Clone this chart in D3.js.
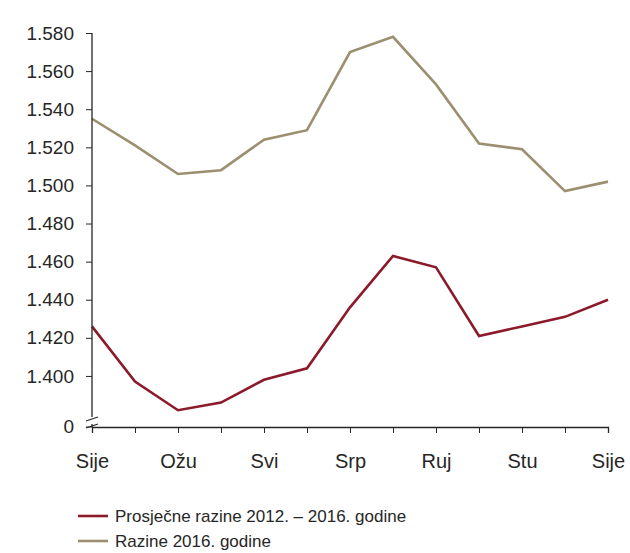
<!DOCTYPE html>
<html>
<head>
<meta charset="utf-8">
<script src="https://cdn.jsdelivr.net/npm/d3@7"></script>
<style>
  body { margin: 0; background: #fff; }
  text { font-family: "Liberation Sans", Arial, sans-serif; }
</style>
</head>
<body>
<div id="content"></div>
<script>
// Mjeseci (13 tocaka, oznaka na svakom drugom)
const months = ['Sije', 'Velj', 'Ožu', 'Tra', 'Svi', 'Lip', 'Srp', 'Kol', 'Ruj', 'Lis', 'Stu', 'Pro', 'Sije'];

// Prosjecne razine 2012. - 2016. godine
const avgLevels = [1426, 1397, 1382, 1386, 1398, 1404, 1436, 1463, 1457, 1421, 1426, 1431, 1440];
// Razine 2016. godine
const levels2016 = [1535, 1521, 1506, 1508, 1524, 1529, 1570, 1578, 1553, 1522, 1519, 1497, 1502];

const yTicks = [1400, 1420, 1440, 1460, 1480, 1500, 1520, 1540, 1560, 1580];
const legendNames = ['Prosječne razine 2012. – 2016. godine', 'Razine 2016. godine'];

const width = 630;
const height = 553;
const mLeft = 92, mRight = 608, mTop = 33, mBottom = 427;
const axisColor = '#262626';
const colors = ['#8c1a2b', '#9c8f6f'];

const locale = d3.formatLocale({ decimal: ',', thousands: '.', grouping: [3], currency: ['', ' kn'] });
const fmt = locale.format(',d');

const svg = d3.select('#content')
    .append('svg')
    .attr('width', width)
    .attr('height', height);

const xScale = d3.scaleLinear()
    .domain([0, months.length - 1])
    .range([mLeft, mRight]);

// Os s prekidom: dno osi predstavlja 0
const yBottom = 1373.2;
const yScale = d3.scaleLinear()
    .domain([yBottom, 1580])
    .range([mBottom, mTop]);

// Linije
const line = d3.line()
    .x((d, i) => xScale(i))
    .y(d => yScale(d));

[avgLevels, levels2016].forEach((series, k) => {
    svg.append('path')
        .datum(series)
        .attr('fill', 'none')
        .attr('stroke', colors[k])
        .attr('stroke-width', 2.6)
        .attr('d', line);
});

// Y os
const yAxis = d3.axisLeft(yScale)
    .tickValues(yTicks)
    .tickSize(6)
    .tickPadding(12)
    .tickFormat(fmt);
const gy = svg.append('g')
    .attr('transform', `translate(${mLeft},0)`)
    .call(yAxis);
gy.select('.domain').remove();

// Oznaka 0 na dnu
gy.append('g')
    .attr('class', 'tick')
    .attr('transform', `translate(0,${mBottom})`)
    .call(g => g.append('line').attr('x2', -6))
    .call(g => g.append('text')
        .attr('x', -18).attr('dy', '0.32em')
        .attr('text-anchor', 'end')
        .text('0'));

gy.selectAll('text')
    .attr('fill', axisColor)
    .style('font-size', '19px');
gy.selectAll('line').attr('stroke', axisColor);

// Linija osi s prekidom
svg.append('line')
    .attr('x1', mLeft).attr('x2', mLeft)
    .attr('y1', yScale(1580)).attr('y2', mBottom - 10)
    .attr('stroke', axisColor).attr('stroke-width', 1.3);
svg.append('line')
    .attr('x1', mLeft).attr('x2', mLeft)
    .attr('y1', mBottom - 3).attr('y2', mBottom)
    .attr('stroke', axisColor).attr('stroke-width', 1.3);
[-6, 1].forEach(off => {
    svg.append('line')
        .attr('x1', mLeft - 6).attr('y1', mBottom + off)
        .attr('x2', mLeft + 6).attr('y2', mBottom + off - 4)
        .attr('stroke', axisColor).attr('stroke-width', 1.2);
});

// X os
const xAxis = d3.axisBottom(xScale)
    .tickValues(d3.range(months.length))
    .tickSize(6)
    .tickPadding(21)
    .tickFormat((d, i) => i % 2 === 0 ? months[i] : '');
const gx = svg.append('g')
    .attr('transform', `translate(0,${mBottom})`)
    .call(xAxis);
gx.select('.domain').attr('stroke', axisColor).attr('stroke-width', 1.3);
gx.selectAll('line').attr('stroke', axisColor);
gx.selectAll('text')
    .attr('fill', axisColor)
    .style('font-size', '20px');

// Legenda
const legend = svg.append('g')
    .attr('transform', 'translate(78,516)');
legendNames.forEach((name, k) => {
    const g = legend.append('g').attr('transform', `translate(0,${k * 25})`);
    g.append('line')
        .attr('x1', 0).attr('x2', 30)
        .attr('stroke', colors[k]).attr('stroke-width', 2.6);
    g.append('text')
        .attr('x', 37).attr('dy', '0.35em')
        .attr('fill', axisColor)
        .style('font-size', '17px')
        .text(name);
});
</script>
</body>
</html>
